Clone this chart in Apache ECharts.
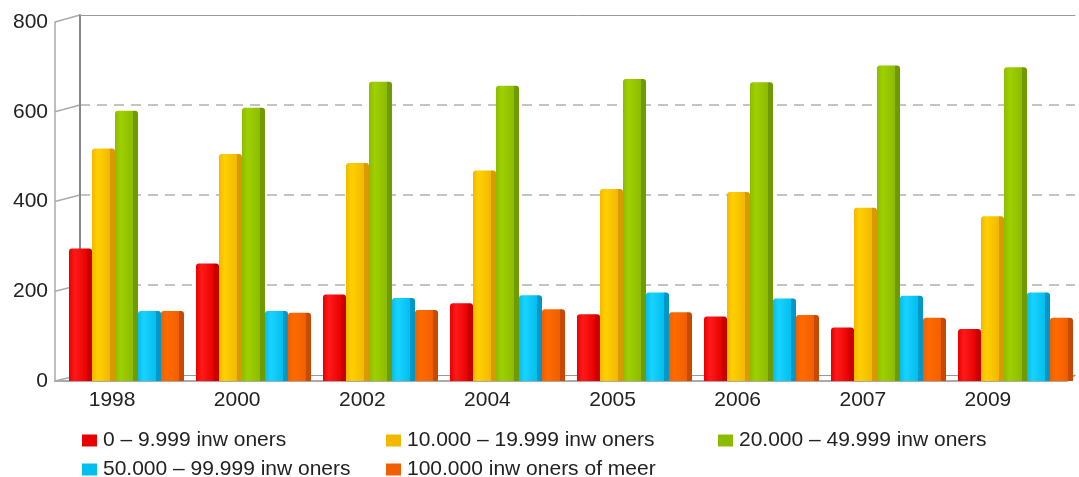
<!DOCTYPE html>
<html>
<head>
<meta charset="utf-8">
<script src="https://cdn.jsdelivr.net/npm/echarts@6/dist/echarts.min.js"></script>
<style>
html, body { margin: 0; padding: 0; background: #fff; }
#main { width: 1079px; height: 477px; }
</style>
</head>
<body>
<div id="main"></div>
<script>
var years = ['1998', '2000', '2002', '2004', '2005', '2006', '2007', '2009'];
var names = ['0 – 9.999 inw oners', '10.000 – 19.999 inw oners', '20.000 – 49.999 inw oners',
	'50.000 – 99.999 inw oners', '100.000 inw oners of meer'];
var klein = [295, 262, 193, 173, 149, 144, 119, 116];
var middel = [518, 506, 486, 469, 428, 421, 386, 367];
var groot = [602, 609, 667, 658, 673, 666, 703, 699];
var stad = [156, 156, 185, 191, 197, 184, 190, 197];
var grootstad = [156, 152, 158, 160, 153, 147, 141, 141];
var yTicks = [0, 200, 400, 600, 800];

// licht, midden, donker (zijkant)
var colors = [
	['#ff1a1a', '#e80000', '#c80000'],
	['#ffd000', '#f2b800', '#d89a00'],
	['#9fd000', '#8cbc00', '#6f9a00'],
	['#1ad2ff', '#00bfee', '#0098c8'],
	['#ff6a00', '#f05f00', '#c84a00']
];
var legendPos = [[82, 430], [386, 430], [718, 430], [82, 459], [386, 459]];
var font = '"Liberation Sans", Arial, sans-serif';

var myChart = echarts.init(document.getElementById('main'));

function barColor(c) {
	return {
		type: 'linear', x: 0, y: 0, x2: 1, y2: 0,
		colorStops: [
			{ offset: 0, color: c[1] },
			{ offset: 0.25, color: c[0] },
			{ offset: 0.78, color: c[1] },
			{ offset: 0.8, color: c[2] },
			{ offset: 1, color: c[2] }
		]
	};
}

var values = [klein, middel, groot, stad, grootstad];
var series = [];
var legends = [];
for (var i = 0; i < values.length; i++) {
	series.push({
		name: names[i],
		type: 'bar',
		xAxisIndex: 0,
		yAxisIndex: 0,
		barWidth: 23,
		barGap: '0%',
		z: 5,
		data: values[i],
		itemStyle: {
			color: barColor(colors[i]),
			borderRadius: [3, 3, 0, 0]
		}
	});
	legends.push({
		data: [{ name: names[i], itemStyle: { color: colors[i][1] } }],
		left: legendPos[i][0],
		top: legendPos[i][1],
		padding: 0,
		icon: 'rect',
		itemWidth: 15,
		itemHeight: 12,
		itemGap: 6,
		selectedMode: false,
		textStyle: { fontFamily: font, fontSize: 21, color: '#222', padding: [0, 0, 0, 1] }
	});
}

var option = {
	animation: false,
	backgroundColor: '#fff',
	legend: legends,
	grid: [
		// staven
		{ left: 63, right: 0, top: 22, bottom: 96 },
		// achterwand
		{ left: 80, right: 4, top: 15, bottom: 102 },
		// voorkant
		{ left: 55, right: 12, top: 22, bottom: 96 },
		// jaartallen
		{ left: 49.5, right: 28.5, top: 22, bottom: 96 }
	],
	xAxis: [
		{ type: 'category', gridIndex: 0, data: years, show: false },
		{
			type: 'value', gridIndex: 1, min: 0, max: 1, position: 'bottom',
			axisLine: { show: true, lineStyle: { color: '#999', width: 1 } },
			axisTick: { show: false }, axisLabel: { show: false }, splitLine: { show: false }
		},
		{
			type: 'value', gridIndex: 1, min: 0, max: 1, position: 'top',
			axisLine: { show: true, lineStyle: { color: '#999', width: 1 } },
			axisTick: { show: false }, axisLabel: { show: false }, splitLine: { show: false }
		},
		{
			type: 'value', gridIndex: 2, min: 0, max: 1, position: 'bottom',
			axisLine: { show: true, lineStyle: { color: '#aaa', width: 2 } },
			axisTick: { show: false }, axisLabel: { show: false }, splitLine: { show: false }
		},
		{
			type: 'category', gridIndex: 3, data: years,
			axisLine: { show: false }, axisTick: { show: false },
			axisLabel: { margin: 9, fontFamily: font, fontSize: 21, color: '#222' }
		}
	],
	yAxis: [
		{ type: 'value', gridIndex: 0, min: 0, max: 800, show: false },
		{
			type: 'value', gridIndex: 1, min: 0, max: 800, interval: 200,
			axisLine: { show: true, lineStyle: { color: '#888', width: 2 } },
			axisTick: { show: false }, axisLabel: { show: false },
			splitLine: {
				show: true, showMinLine: false, showMaxLine: false,
				lineStyle: { color: '#c4c4c4', width: 2, type: [10, 7] }
			}
		},
		{
			type: 'value', gridIndex: 2, min: 0, max: 800, interval: 200,
			axisLine: { show: true, lineStyle: { color: '#aaa', width: 1.5 } },
			axisTick: { show: false }, splitLine: { show: false },
			axisLabel: { margin: 7, fontFamily: font, fontSize: 21, color: '#222' }
		},
		{ type: 'value', gridIndex: 3, min: 0, max: 800, show: false }
	],
	series: series
};

myChart.setOption(option);

// schuine verbindingslijnen tussen voor- en achterkant
var frontX = myChart.convertToPixel({ xAxisIndex: 3 }, 0);
var frontRight = myChart.convertToPixel({ xAxisIndex: 3 }, 1);
var backX = myChart.convertToPixel({ xAxisIndex: 1 }, 0);
var backRight = myChart.convertToPixel({ xAxisIndex: 1 }, 1);
var elements = [];
for (var t = 0; t < yTicks.length; t++) {
	var fy = myChart.convertToPixel({ yAxisIndex: 2 }, yTicks[t]);
	var by = myChart.convertToPixel({ yAxisIndex: 1 }, yTicks[t]);
	elements.push({
		type: 'line',
		shape: { x1: frontX, y1: fy, x2: backX, y2: by },
		style: { stroke: '#aaa', lineWidth: 1.5 }
	});
}
elements.push({
	type: 'line',
	shape: {
		x1: frontRight, y1: myChart.convertToPixel({ yAxisIndex: 2 }, 0),
		x2: backRight, y2: myChart.convertToPixel({ yAxisIndex: 1 }, 0)
	},
	style: { stroke: '#aaa', lineWidth: 2 }
});
myChart.setOption({ graphic: { elements: elements } });
</script>
</body>
</html>
